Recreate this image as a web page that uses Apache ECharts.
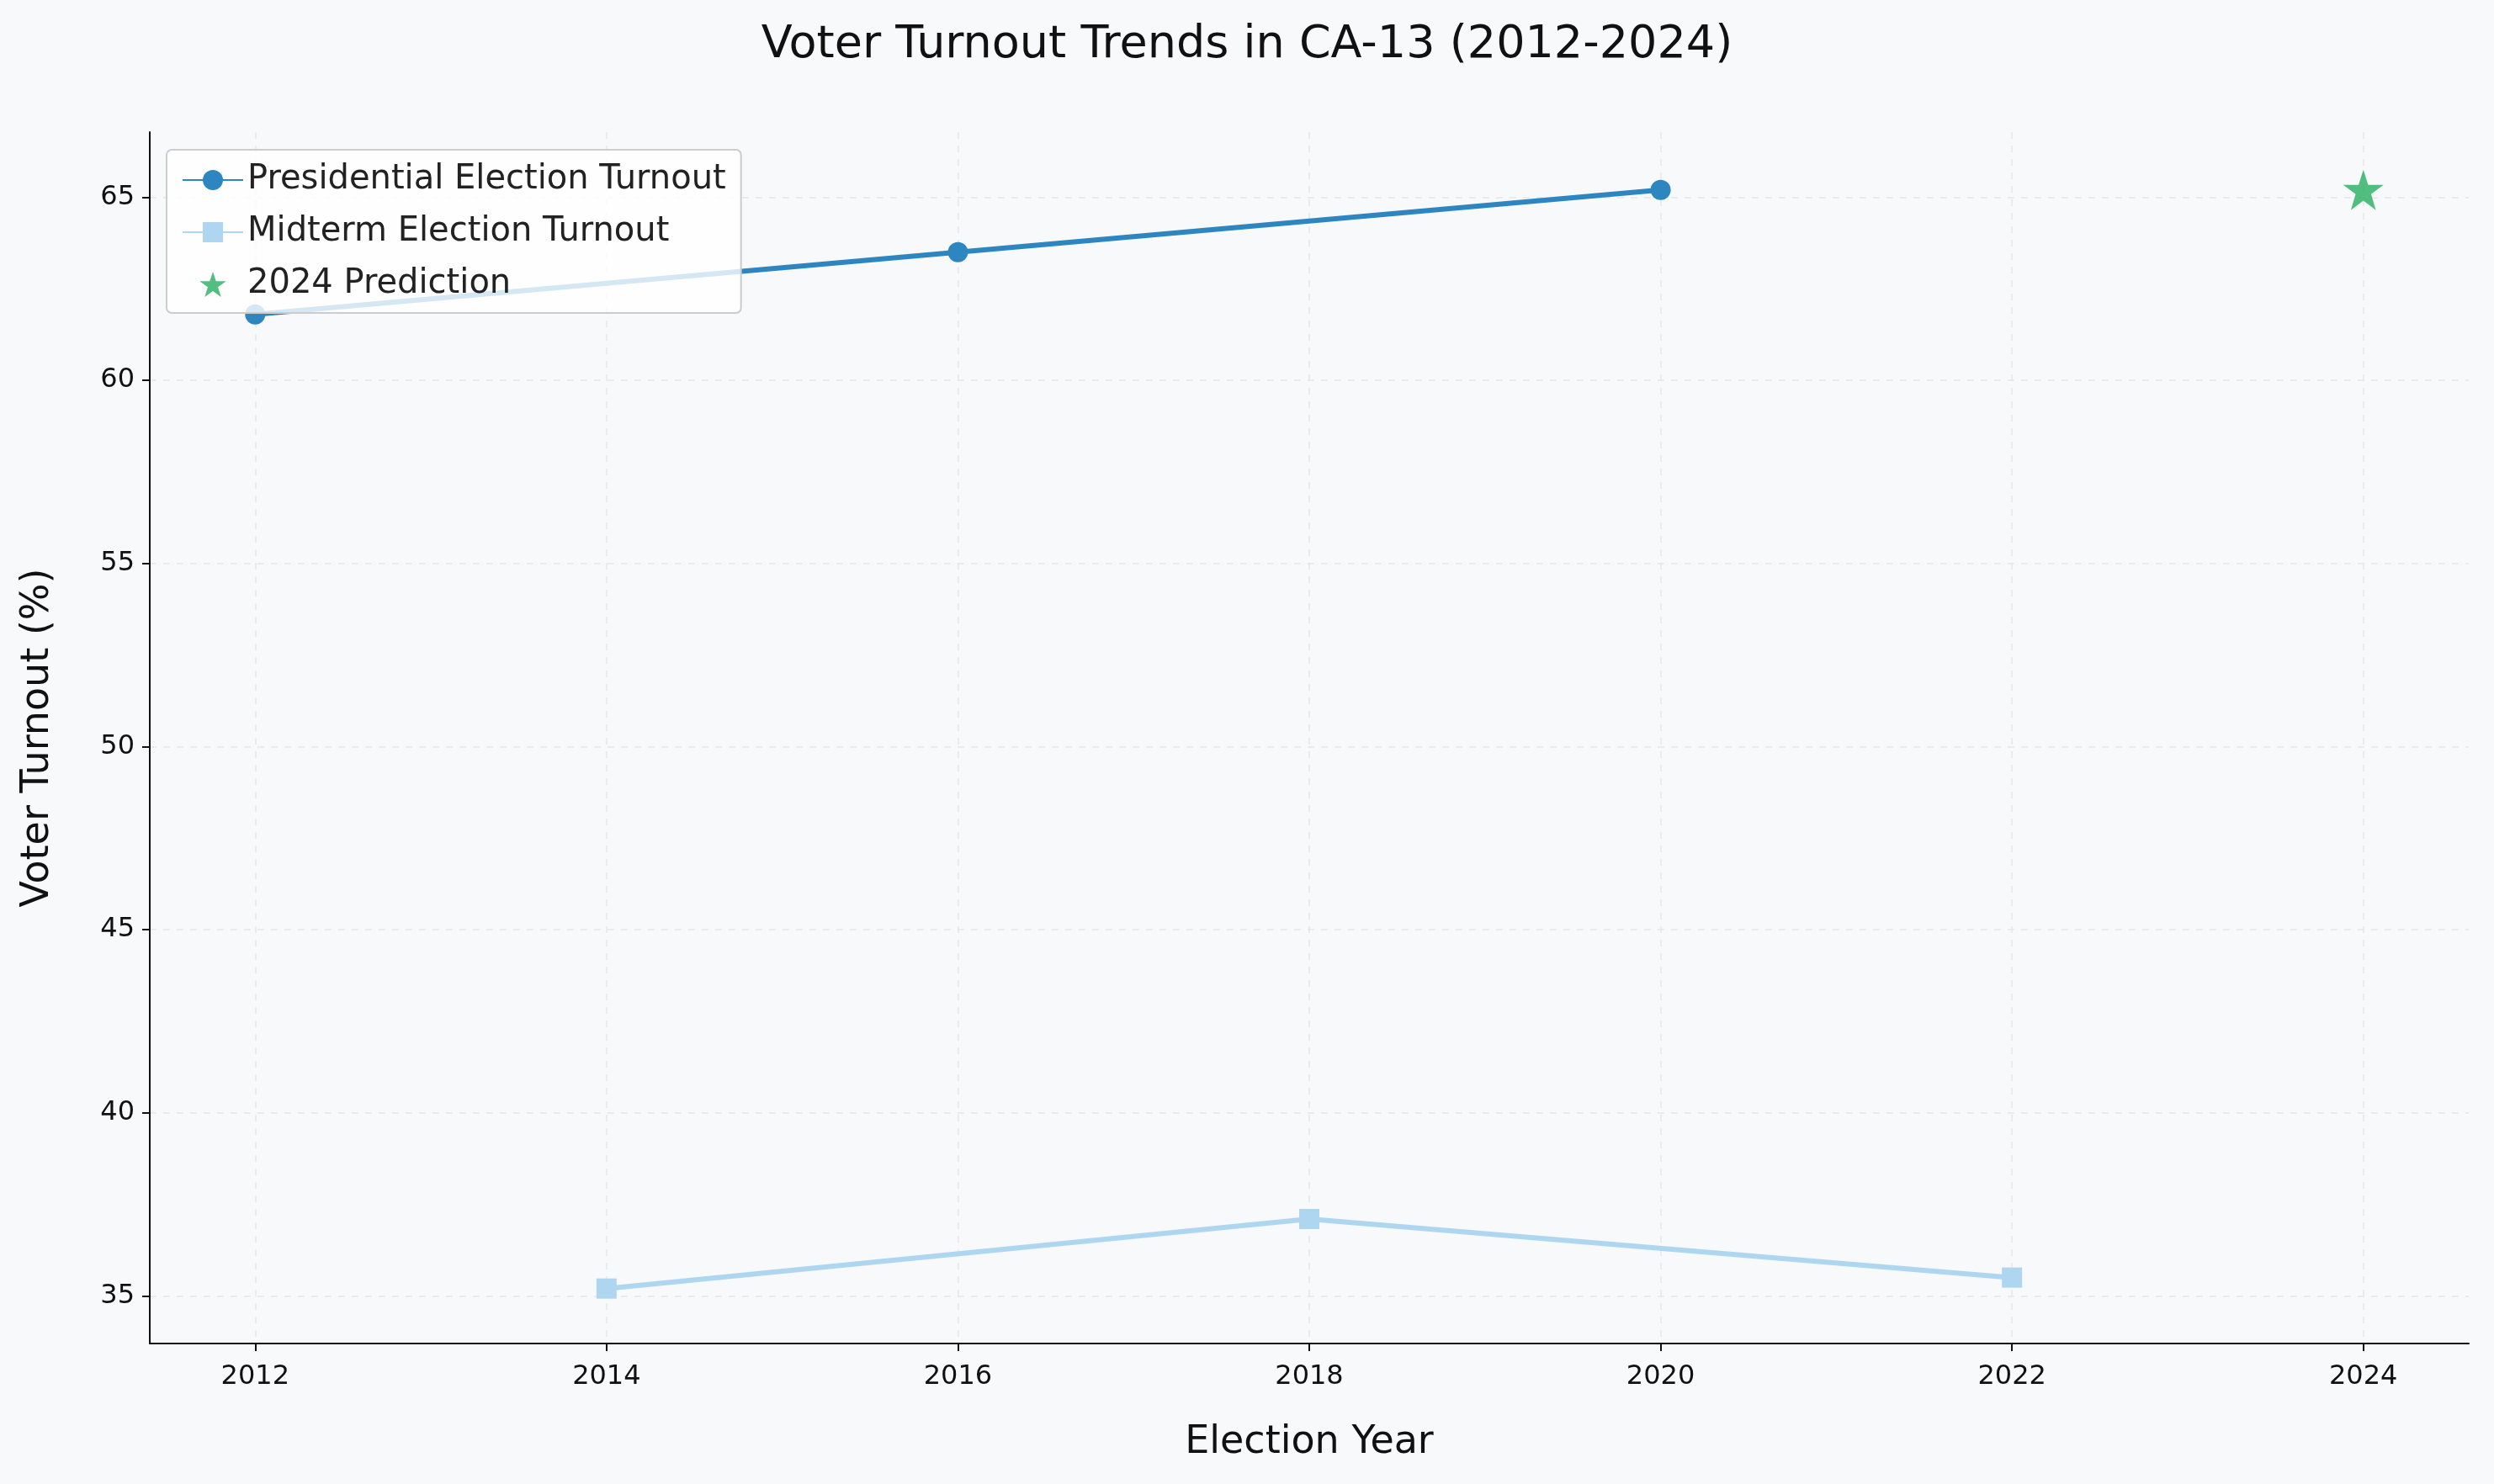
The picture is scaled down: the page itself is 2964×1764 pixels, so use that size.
<!DOCTYPE html>
<html>
<head>
<meta charset="utf-8">
<script src="https://cdn.jsdelivr.net/npm/echarts@6/dist/echarts.min.js"></script>
<style>
  html, body { margin: 0; padding: 0; background: #f8f9fb; }
  #main { width: 2964px; height: 1764px; }
</style>
</head>
<body>
<div id="main"></div>
<script>
// data
var presYears = [2012, 2016, 2020];
var presTurnout = [61.8, 63.5, 65.2];
var midYears = [2014, 2018, 2022];
var midTurnout = [35.2, 37.1, 35.5];
var predYear = [2024];
var predTurnout = [65.2];
var xTicks = [2012, 2014, 2016, 2018, 2020, 2022, 2024];
var yTicks = [35, 40, 45, 50, 55, 60, 65];

function pairs(xs, ys) { return xs.map(function (x, i) { return [x, ys[i]]; }); }

var chart = echarts.init(document.getElementById('main'));
var font = 'DejaVu Sans';
var grid = { color: '#e6e6e6', type: [8, 8], width: 1.5 };
var star = 'path://M50,0 L61.8,35.5 L100,35.5 L69.1,57.4 L80.9,95 L50,72.6 L19.1,95 L30.9,57.4 L0,35.5 L38.2,35.5 Z';

chart.setOption({
  backgroundColor: '#f8f9fb',
  animation: false,
  textStyle: { fontFamily: font },
  title: {
    text: 'Voter Turnout Trends in CA-13 (2012-2024)',
    left: 'center', top: 22,
    textStyle: { fontSize: 54, fontWeight: 'normal', color: '#111', fontFamily: font }
  },
  grid: { left: 178, right: 30, top: 157, bottom: 167 },
  legend: {
    orient: 'vertical', left: 198, top: 178,
    itemWidth: 72, itemHeight: 30, itemGap: 22,
    padding: [16, 18, 14, 18],
    backgroundColor: 'rgba(255,255,255,0.8)',
    borderColor: '#cccccc', borderWidth: 2, borderRadius: 6,
    textStyle: { fontSize: 40, color: '#222', fontFamily: font },
    data: ['Presidential Election Turnout', 'Midterm Election Turnout', '2024 Prediction']
  },
  xAxis: {
    type: 'value', min: 2011.4, max: 2024.6,
    name: 'Election Year', nameLocation: 'middle', nameGap: 95,
    nameTextStyle: { fontSize: 46, color: '#111', fontFamily: font },
    axisLine: { lineStyle: { color: '#111', width: 2 } },
    axisTick: { show: true, customValues: xTicks, length: 9, lineStyle: { color: '#111', width: 2 } },
    axisLabel: { customValues: xTicks, fontSize: 32, color: '#111', margin: 24, fontFamily: font,
      formatter: function (v) { return String(v); } },
    splitLine: { show: true, customValues: xTicks, lineStyle: grid }
  },
  yAxis: {
    type: 'value', min: 33.7, max: 66.78,
    name: 'Voter Turnout (%)', nameLocation: 'middle', nameGap: 110, nameRotate: 90,
    nameTextStyle: { fontSize: 46, color: '#111', fontFamily: font },
    axisLine: { show: true, lineStyle: { color: '#111', width: 2 } },
    axisTick: { show: true, customValues: yTicks, length: 9, lineStyle: { color: '#111', width: 2 } },
    axisLabel: { customValues: yTicks, fontSize: 32, color: '#111', margin: 18, fontFamily: font },
    splitLine: { show: true, customValues: yTicks, lineStyle: grid }
  },
  series: [
    {
      name: 'Presidential Election Turnout', type: 'line',
      data: pairs(presYears, presTurnout),
      symbol: 'circle', symbolSize: 24,
      itemStyle: { color: '#2e86c1' },
      lineStyle: { color: '#2e86c1', width: 6 },
      z: 3
    },
    {
      name: 'Midterm Election Turnout', type: 'line',
      data: pairs(midYears, midTurnout),
      symbol: 'rect', symbolSize: 24,
      itemStyle: { color: '#aed6f1' },
      lineStyle: { color: '#aed6f1', width: 6 },
      z: 3
    },
    {
      name: '2024 Prediction', type: 'scatter',
      data: pairs(predYear, predTurnout),
      symbol: star,
      symbolSize: 48,
      itemStyle: { color: '#27ae60' },
      z: 4
    }
  ]
});
</script>
</body>
</html>
